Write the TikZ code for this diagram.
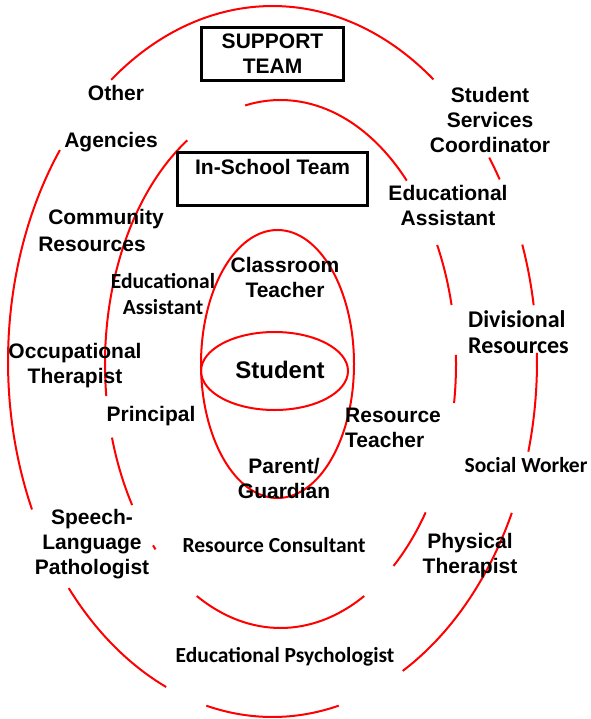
\documentclass[tikz,border=0pt]{standalone}
\usepackage{fontspec}
\setmainfont{Liberation Sans}
\newfontfamily\calfont{Carlito}
\usepackage{tikz}
\usetikzlibrary{positioning}
\usetikzlibrary{shapes.geometric}
\tikzstyle{ring}=[draw=red,line width=2pt]
\tikzstyle{lbl}=[font=\fontsize{21}{25}\selectfont\bfseries,align=center,inner sep=0pt]
\tikzstyle{clbl}=[font=\calfont\fontsize{21.5}{26}\selectfont\bfseries,align=center,inner sep=0pt]
\tikzstyle{team}=[rectangle,draw=black,line width=3pt,inner sep=0pt,font=\fontsize{21}{25}\selectfont\bfseries,align=center]
\tikzset{every picture/.style={
    x=1pt,y=-1pt
  }
}

\begin{document}
\begin{tikzpicture}
          \useasboundingbox (0,0) rectangle (590,719);
          % centres of the two broken rings
          \coordinate (oc) at (272.5,361.5);
          \coordinate (mc) at (280.5,364);
          % outer ring (support team)
          \foreach \s/\e in {-60.5/-25.2,-14.7/1.4,9.1/19.2,30.8/35,52.5/127.6,143.5/204.6,219.6/246.3,255.5/284.5}
            \draw[ring] (oc) ++(\s:264.5pt and 355.5pt) arc[start angle=\s,end angle=\e,x radius=264.5pt,y radius=355.5pt];
          % middle ring (in-school team)
          \foreach \s/\e in {-118.5/-61.5,-49.9/-34.2,-8.5/2,12.9/26.8,44/101.6,122.1/187,196.2/212.3,223.4/224.6}
            \draw[ring] (mc) ++(\s:175.5pt and 264pt) arc[start angle=\s,end angle=\e,x radius=175.5pt,y radius=264pt];
          % inner ring and student
          \node[ellipse,ring,minimum width=153pt,minimum height=268pt] (inner) at (277.5,364) {};
          \node[ellipse,ring,minimum width=147pt,minimum height=78pt] (studring) at (274.5,371) {};
          \node[inner sep=0pt,font=\fontsize{24}{28}\selectfont\bfseries] (student) at (280,370) {Student};
          % team boxes
          \node[team,minimum width=142pt,minimum height=53pt] (support) at (272.5,54) {SUPPORT\\TEAM};
          \node[team,minimum width=190pt,minimum height=53pt] (inschool) at (272.5,179) {In-School Team\\\mbox{}};
          % support team
          \node[lbl] (other) at (116,93) {Other};
          \node[lbl] (agencies) at (111,142) {Agencies};
          \node[lbl] (ssc) at (490,120) {Student\\Services\\Coordinator};
          \node[lbl] (comm) at (106,219) {Community};
          \node[lbl] (commres) at (92,244) {Resources};
          \node[lbl] (occ) at (75,366) {Occupational\\Therapist};
          \node[clbl,font=\calfont\fontsize{24}{26}\selectfont\bfseries,align=left,anchor=west] (divres) at (468,332) {Divisional\\Resources};
          \node[clbl] (social) at (526,465) {Social Worker};
          \node[lbl] (speech) at (92,544) {Speech-\\Language\\Pathologist};
          \node[lbl] (physical) at (470,556) {Physical\\Therapist};
          \node[clbl] (edpsych) at (285,657) {Educational Psychologist};
          % in-school team
          \node[lbl] (earight) at (448,205) {Educational\\Assistant};
          \node[clbl] (ealeft) at (163,294) {Educational\\Assistant};
          \node[lbl] (classroom) at (285,277) {Classroom\\Teacher};
          \node[lbl] (principal) at (151,416) {Principal};
          \node[lbl,align=left,anchor=west] (resteacher) at (345,428) {Resource\\Teacher};
          \node[lbl] (parent) at (284,478) {Parent/\\Guardian};
          \node[clbl] (rescons) at (274,545) {Resource Consultant};
        \end{tikzpicture}
\end{document}
